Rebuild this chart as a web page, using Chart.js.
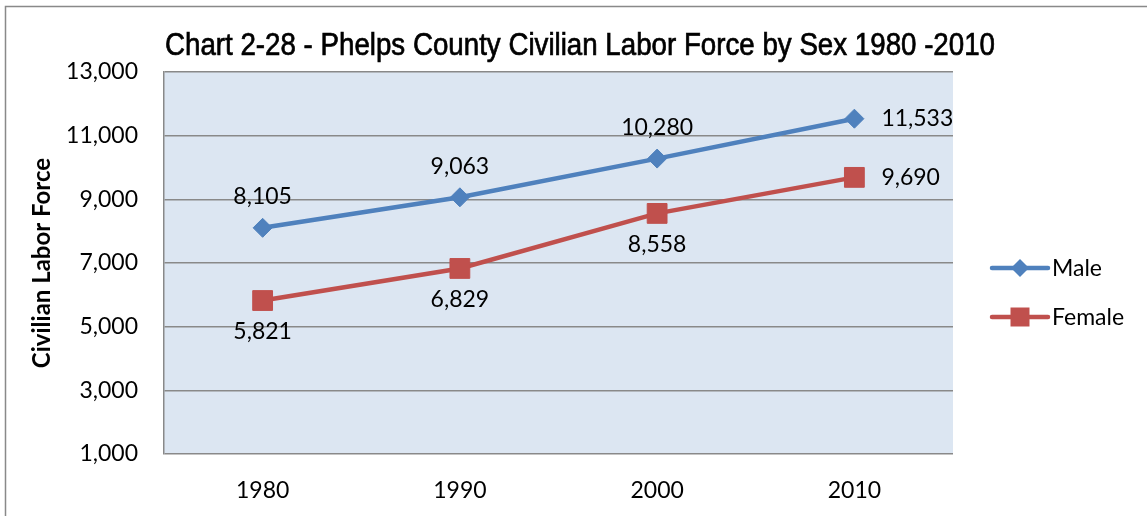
<!DOCTYPE html>
<html>
<head>
<meta charset="utf-8">
<script src="https://cdn.jsdelivr.net/npm/chart.js@4/dist/chart.umd.min.js"></script>
<style>
  html, body { margin: 0; padding: 0; background: #fff; }
  #wrap { width: 1147px; height: 516px; }
</style>
</head>
<body>
<div id="wrap"><canvas id="laborChart" width="1147" height="516"></canvas></div>
<script>
// Data
const years = ['1980', '1990', '2000', '2010'];
const maleValues = [8105, 9063, 10280, 11533];
const femaleValues = [5821, 6829, 8558, 9690];
const yMin = 1000;
const yMax = 13000;
const yStep = 2000;
const chartTitle = 'Chart 2-28 - Phelps County Civilian Labor Force by Sex 1980 -2010';

const maleColor = '#4f81bd';
const femaleColor = '#c0504d';
const gridColor = '#898989';
const plotBg = '#dce6f2';
const tickFont = { family: 'Lato, "Open Sans", sans-serif', size: 23 };

// plot background + outer frame
const backdrop = {
  id: 'backdrop',
  beforeDraw(chart) {
    const { ctx, chartArea: a } = chart;
    ctx.save();
    ctx.fillStyle = plotBg;
    ctx.fillRect(a.left, a.top, a.right - a.left, a.bottom - a.top);
    ctx.strokeStyle = gridColor;
    ctx.lineWidth = 1.5;
    ctx.beginPath();
    ctx.moveTo(5.5, chart.height);
    ctx.lineTo(5.5, 6.5);
    ctx.lineTo(chart.width, 6.5);
    ctx.stroke();
    ctx.restore();
  }
};

// narrow title, squeezed like Arial Narrow
const narrowTitle = {
  id: 'narrowTitle',
  afterDraw(chart) {
    const { ctx } = chart;
    ctx.save();
    ctx.font = '31px "Liberation Sans", Arial, sans-serif';
    ctx.fillStyle = '#000';
    ctx.strokeStyle = '#000';
    ctx.lineWidth = 0.7;
    ctx.textAlign = 'center';
    ctx.textBaseline = 'alphabetic';
    const w = ctx.measureText(chartTitle).width;
    const sx = Math.min(1, 830 / w);
    ctx.translate(580, 55);
    ctx.scale(sx, 1);
    ctx.fillText(chartTitle, 0, 0);
    ctx.strokeText(chartTitle, 0, 0);
    ctx.restore();
  }
};

// value labels next to each point
const valueLabels = {
  id: 'valueLabels',
  afterDatasetsDraw(chart) {
    const { ctx } = chart;
    ctx.save();
    ctx.font = `${tickFont.size}px ${tickFont.family}`;
    ctx.fillStyle = '#000';
    ctx.textBaseline = 'middle';
    chart.data.datasets.forEach((ds, i) => {
      const meta = chart.getDatasetMeta(i);
      meta.data.forEach((pt, j) => {
        const txt = ds.data[j].toLocaleString('en-US');
        const pos = ds.labelPos[j];
        if (pos === 'right') {
          ctx.textAlign = 'left';
          ctx.fillText(txt, pt.x + 27, pt.y);
        } else {
          ctx.textAlign = 'center';
          ctx.fillText(txt, pt.x, pos === 'top' ? pt.y - 31 : pt.y + 31);
        }
      });
    });
    ctx.restore();
  }
};

function marker(ctx, style, x, y, r) {
  ctx.beginPath();
  if (style === 'rectRot') {
    ctx.moveTo(x - r, y);
    ctx.lineTo(x, y - r);
    ctx.lineTo(x + r, y);
    ctx.lineTo(x, y + r);
    ctx.closePath();
  } else {
    ctx.rect(x - r, y - r, r * 2, r * 2);
  }
  ctx.fill();
}

// legend with line + marker, like the spreadsheet one
const lineLegend = {
  id: 'lineLegend',
  afterDraw(chart) {
    const { ctx } = chart;
    const x0 = chart.chartArea.right + 39;
    const rows = [268, 317];
    ctx.save();
    ctx.font = `${tickFont.size}px ${tickFont.family}`;
    ctx.textAlign = 'left';
    ctx.textBaseline = 'middle';
    chart.data.datasets.forEach((ds, i) => {
      const y = rows[i];
      ctx.strokeStyle = ds.borderColor;
      ctx.fillStyle = ds.borderColor;
      ctx.lineWidth = 4.5;
      ctx.lineCap = 'round';
      ctx.beginPath();
      ctx.moveTo(x0, y);
      ctx.lineTo(x0 + 56, y);
      ctx.stroke();
      marker(ctx, ds.pointStyle, x0 + 28, y, ds.pointStyle === 'rectRot' ? 9 : 9.5);
      ctx.fillStyle = '#000';
      ctx.fillText(ds.label, x0 + 60, y + 1);
    });
    ctx.restore();
  }
};

new Chart(document.getElementById('laborChart'), {
  type: 'line',
  data: {
    labels: years,
    datasets: [
      {
        label: 'Male',
        data: maleValues,
        borderColor: maleColor,
        backgroundColor: maleColor,
        borderWidth: 4.5,
        pointStyle: 'rectRot',
        pointRadius: 9.5,
        pointBorderWidth: 1,
        labelPos: ['top', 'top', 'top', 'right']
      },
      {
        label: 'Female',
        data: femaleValues,
        borderColor: femaleColor,
        backgroundColor: femaleColor,
        borderWidth: 4.5,
        pointStyle: 'rect',
        pointRadius: 14,
        pointBorderWidth: 1,
        labelPos: ['bottom', 'bottom', 'bottom', 'right']
      }
    ]
  },
  options: {
    responsive: false,
    animation: false,
    layout: { padding: { left: 0, right: 194, top: 72, bottom: 0 } },
    plugins: {
      legend: { display: false },
      tooltip: { enabled: false },
      title: { display: false }
    },
    scales: {
      x: {
        offset: true,
        grid: { display: false },
        border: { display: false },
        ticks: { color: '#000', font: tickFont, padding: 15 },
        afterFit(scale) { scale.height = 62; }
      },
      y: {
        min: yMin,
        max: yMax,
        grid: { color: gridColor, lineWidth: 1.5, drawTicks: false },
        border: { display: true, color: gridColor, width: 1.5 },
        ticks: {
          stepSize: yStep,
          color: '#000',
          font: tickFont,
          padding: 26,
          callback: v => v.toLocaleString('en-US')
        },
        title: {
          display: true,
          text: 'Civilian Labor Force',
          color: '#000',
          font: { family: 'Lato, "Open Sans", sans-serif', size: 24, weight: 'bold' },
          padding: { top: 28, bottom: 0 }
        },
        afterFit(scale) { scale.width = 164; }
      }
    }
  },
  plugins: [backdrop, narrowTitle, valueLabels, lineLegend]
});
</script>
</body>
</html>
